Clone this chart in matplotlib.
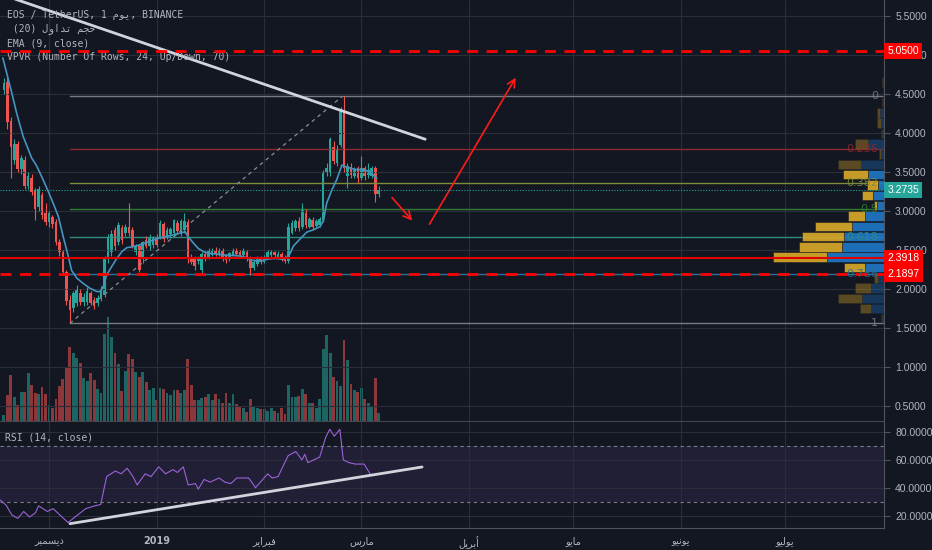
import numpy as np
import matplotlib
matplotlib.use('Agg')
import matplotlib.pyplot as plt
from matplotlib.transforms import blended_transform_factory

BG = '#131722'
GRID = '#2a2e39'
TXT = '#b2b5be'
AXIS = '#50535e'
UP = '#26a69a'
DOWN = '#ef5350'

# daily candles, day 0 = 1 Dec 2018
first_day = -13
opens = [4.55, 4.66, 4.15, 3.66, 3.86, 3.54, 3.66, 3.32, 3.42, 3.27, 3.05, 3.20, 2.98, 2.86, 2.92,
         2.86, 2.60, 2.47, 2.22, 1.86, 1.76, 1.82, 1.95, 1.83, 1.84, 1.95, 1.86, 1.82, 1.88, 1.92,
         2.38, 2.47, 2.76, 2.60, 2.78, 2.72, 2.80, 2.76, 2.48, 2.55, 2.38, 2.63, 2.55, 2.56, 2.65,
         2.67, 2.83, 2.67, 2.70, 2.72, 2.85, 2.72, 2.76, 2.86, 2.40, 2.38, 2.36, 2.24, 2.45, 2.40,
         2.44, 2.50, 2.44, 2.49, 2.42, 2.38, 2.44, 2.50, 2.47, 2.43, 2.48, 2.40, 2.27, 2.32, 2.39,
         2.35, 2.40, 2.43, 2.47, 2.41, 2.45, 2.40, 2.36, 2.72, 2.78, 2.87, 2.80, 2.98, 2.80, 2.88,
         2.81, 2.82, 2.88, 3.49, 3.50, 3.82, 3.62, 3.85, 4.30, 3.45, 3.57, 3.45, 3.55, 3.42, 3.55,
         3.46, 3.45, 3.55, 3.22]
highs = [4.70, 4.72, 4.20, 3.92, 3.90, 3.72, 3.70, 3.50, 3.48, 3.30, 3.32, 3.25, 3.10, 3.00, 2.95,
         2.90, 2.64, 2.50, 2.25, 1.92, 1.98, 2.05, 2.00, 1.95, 2.02, 1.98, 1.90, 1.92, 2.04, 2.42,
         2.70, 2.76, 2.80, 2.86, 2.82, 2.83, 3.10, 2.80, 2.58, 2.58, 2.62, 2.68, 2.70, 2.68, 2.70,
         2.88, 2.86, 2.80, 2.80, 2.90, 2.88, 2.90, 2.97, 2.90, 2.45, 2.42, 2.42, 2.48, 2.48, 2.52,
         2.53, 2.54, 2.52, 2.52, 2.45, 2.48, 2.52, 2.53, 2.50, 2.52, 2.50, 2.42, 2.38, 2.42, 2.42,
         2.44, 2.50, 2.50, 2.49, 2.49, 2.48, 2.43, 2.85, 2.88, 2.90, 2.92, 3.10, 3.02, 2.92, 2.92,
         2.90, 2.92, 3.52, 3.62, 3.95, 3.90, 3.85, 4.33, 4.47, 3.62, 3.62, 3.56, 3.58, 3.70, 3.58,
         3.62, 3.58, 3.58, 3.32]
lows = [4.50, 4.05, 3.42, 3.60, 3.50, 3.48, 3.28, 3.28, 3.20, 2.88, 3.00, 2.90, 2.82, 2.80, 2.78,
        2.56, 2.42, 2.18, 1.80, 1.58, 1.70, 1.78, 1.80, 1.78, 1.80, 1.80, 1.74, 1.78, 1.85, 1.90,
        2.33, 2.42, 2.50, 2.56, 2.58, 2.68, 2.68, 2.52, 2.44, 2.22, 2.34, 2.52, 2.50, 2.52, 2.54,
        2.64, 2.60, 2.64, 2.66, 2.68, 2.70, 2.68, 2.72, 2.34, 2.32, 2.25, 2.32, 2.20, 2.36, 2.38,
        2.42, 2.42, 2.42, 2.36, 2.34, 2.36, 2.42, 2.42, 2.40, 2.40, 2.36, 2.18, 2.24, 2.30, 2.32,
        2.33, 2.38, 2.40, 2.40, 2.39, 2.36, 2.33, 2.33, 2.70, 2.75, 2.74, 2.77, 2.78, 2.78, 2.76,
        2.79, 2.80, 2.86, 3.45, 3.45, 3.60, 3.58, 3.82, 3.50, 3.30, 3.42, 3.42, 3.36, 3.40, 3.40,
        3.42, 3.42, 3.12, 3.18]
closes = [4.64, 4.14, 3.82, 3.86, 3.54, 3.68, 3.32, 3.45, 3.24, 3.02, 3.28, 2.95, 2.86, 2.97, 2.84,
          2.60, 2.47, 2.22, 1.85, 1.73, 1.95, 2.00, 1.83, 1.90, 1.98, 1.82, 1.78, 1.88, 2.00, 2.38,
          2.65, 2.70, 2.55, 2.82, 2.63, 2.80, 2.72, 2.55, 2.55, 2.25, 2.60, 2.55, 2.66, 2.65, 2.57,
          2.85, 2.64, 2.76, 2.77, 2.88, 2.74, 2.87, 2.87, 2.38, 2.35, 2.30, 2.40, 2.45, 2.40, 2.50,
          2.50, 2.45, 2.49, 2.40, 2.37, 2.46, 2.50, 2.45, 2.43, 2.49, 2.40, 2.27, 2.35, 2.39, 2.35,
          2.41, 2.47, 2.47, 2.43, 2.45, 2.39, 2.36, 2.80, 2.85, 2.87, 2.78, 3.01, 2.82, 2.90, 2.80,
          2.87, 2.90, 3.49, 3.55, 3.92, 3.64, 3.80, 4.30, 3.55, 3.58, 3.46, 3.52, 3.42, 3.55, 3.45,
          3.52, 3.55, 3.22, 3.27]
volumes = [6, 26, 46, 24, 16, 29, 29, 48, 36, 28, 27, 34, 27, 16, 13, 22, 35, 42, 54, 74,
           68, 63, 58, 43, 40, 48, 41, 32, 28, 87, 104, 84, 68, 57, 30, 50, 67, 62, 49, 44,
           49, 39, 31, 33, 21, 33, 32, 28, 26, 31, 31, 28, 31, 62, 36, 21, 21, 23, 24, 27,
           21, 27, 22, 18, 28, 18, 27, 17, 14, 13, 9, 22, 14, 13, 12, 12, 10, 13,
           10, 8, 13, 7, 36, 24, 24, 25, 32, 27, 18, 18, 13, 22, 72, 86, 68, 44, 40, 35,
           81, 61, 37, 31, 29, 33, 22, 18, 14, 43, 8]

ema_days = [-13.3, -12.2, -10.7, -9.3, -7.4, -5.0, -3.7, -2.1, -0.2, 1.2, 2.7, 4.1, 5.6, 6.5, 8.0,
            9.9, 11.8, 13.7, 14.7, 15.6, 16.6, 18.1, 19.5, 21.0, 22.4, 23.8, 25.7, 27.7, 29.6, 31.5,
            33.4, 35.4, 37.3, 39.2, 40.1, 41.6, 43.0, 44.5, 45.9, 47.8, 49.8, 51.7, 53.6, 55.5, 57.0,
            58.4, 59.9, 61.3, 62.7, 64.2, 66.1, 67.5, 68.5, 69.5, 70.4, 72.3, 74.3, 76.2, 78.1, 79.1,
            80.0, 81.5, 82.9, 84.4, 85.3, 86.7, 88.6, 90.6, 92.5, 94.4]
ema_vals = [4.96, 4.77, 4.51, 4.25, 3.95, 3.68, 3.59, 3.44, 3.25, 3.10, 2.93, 2.67, 2.41, 2.24, 2.14,
            2.07, 2.01, 1.97, 1.965, 2.03, 2.18, 2.29, 2.39, 2.48, 2.53, 2.54, 2.56, 2.59, 2.62, 2.65,
            2.67, 2.69, 2.71, 2.735, 2.67, 2.59, 2.52, 2.48, 2.46, 2.45, 2.44, 2.43, 2.43, 2.42, 2.40,
            2.37, 2.36, 2.36, 2.38, 2.39, 2.39, 2.38, 2.40, 2.46, 2.55, 2.64, 2.73, 2.76, 2.80, 2.88,
            3.10, 3.27, 3.40, 3.59, 3.57, 3.55, 3.53, 3.53, 3.50, 3.42]

rsi_days = [-14, -12.4, -10.7, -9, -7.3, -5.6, -3.9, -3, -0.5, 1.2, 2.9, 5.5, 8, 10.6, 13.2, 14.9,
            16.6, 19.1, 20.8, 22.5, 24.2, 25.4, 27.7, 29.4, 31.6, 33.6, 35.7, 37, 38.7, 40.1, 42.2,
            43, 44.7, 46.4, 49, 50.7, 52.4, 54.1, 57.5, 58.4, 59.5, 60.9, 63, 64.3, 66, 68.9, 71.1,
            72.9, 73.7, 74.6, 76.3, 78, 79.7, 80.9, 82.2, 83.8, 84.8, 86.5, 88.2, 90.8, 92.5]
rsi_vals = [31, 27.6, 20.5, 18, 23, 19, 22, 27, 23, 25, 21, 15, 20, 25, 27, 28,
            48, 52, 50, 54, 48, 42, 50, 48, 55, 50, 53, 51, 55, 42, 43,
            39, 46, 44, 47, 44, 43, 47, 47, 44, 40, 44, 50, 47, 48, 63, 66,
            60, 64, 58, 60, 62, 76, 82, 77, 82, 60, 58, 57, 57, 50]

# fibonacci retracement drawn from the Dec low to the Feb high
fib_labels = ['0', '0.236', '0.382', '0.5', '0.618', '0.786', '1']
fib_prices = [4.47, 3.80, 3.36, 3.03, 2.67, 2.19, 1.56]
fib_colors = ['#787b86', '#8b2a30', '#7d8c38', '#2e7d32', '#2f8c80', '#2c6f96', '#787b86']
fib_start = 6

# VPVR, 24 rows, bottom row first
vp_low, vp_high = 1.55, 4.72
vp_up = [1, 11, 24, 16, 4, 21, 54, 43, 42, 37, 17, 3, 11, 11, 25, 23, 2, 13, 1, 4, 3, 1, 0.5, 1]
vp_down = [2, 13, 22, 13, 6, 19, 57, 42, 40, 32, 19, 7, 11, 6, 16, 23, 3, 16, 2, 3, 4, 1, 1, 1]
vp_value_area = (5, 14)
vp_span = 884

month_days = [0, 31, 62, 90, 121, 151, 182, 212]
month_labels = ['\uFEAE\uFE92\uFEE4\uFEB4\uFEF3\uFEA9', '2019',
                '\uFEAE\uFEF3\uFE8D\uFEAE\uFE92\uFED3', '\uFEB1\uFEAD\uFE8E\uFEE3',
                '\uFEDE\uFEF3\uFEAE\uFE91\uFE83', '\uFEEE\uFEF3\uFE8E\uFEE3',
                '\uFEEE\uFEF4\uFEE7\uFEEE\uFEF3', '\uFEEE\uFEF4\uFEDF\uFEEE\uFEF3']

price_marks = [(5.05, '5.0500', '#ff0000'), (3.2735, '3.2735', UP),
               (2.3918, '2.3918', '#ff0000'), (2.1897, '2.1897', '#ff0000')]

days = np.arange(first_day, first_day + len(closes))
o = np.array(opens)
c = np.array(closes)
cols = [UP if cc >= oo else DOWN for oo, cc in zip(o, c)]

fig = plt.figure(figsize=(9.32, 5.5), dpi=100, facecolor=BG)
ax = fig.add_axes([0, 0.2345, 0.9485, 0.7655])
ax_vol = ax.twinx()
ax_vp = ax.twiny()
ax_vol.set_zorder(0)
ax.set_zorder(1)
ax_vp.set_zorder(2)
ax_vol.set_facecolor(BG)
ax.patch.set_visible(False)
ax_vp.patch.set_visible(False)

ax.set_xlim(-14.12, 240.6)
ax.set_ylim(0.308, 5.705)
ax.set_xticks(month_days)
ax.set_yticks(np.arange(0.5, 5.51, 0.5))
ax.set_yticklabels([f'{v:.4f}' for v in np.arange(0.5, 5.51, 0.5)], family='Liberation Sans')
ax.yaxis.tick_right()
ax.tick_params(axis='y', labelcolor=TXT, color=AXIS, labelsize=7.5, length=4, pad=4)
ax.tick_params(axis='x', length=0, labelbottom=False)
ax.grid(color=GRID, lw=0.8)
for s in ['top', 'left']:
    ax.spines[s].set_visible(False)
ax.spines['right'].set_color(AXIS)
ax.spines['bottom'].set_color('#434651')
for s in ax_vol.spines.values():
    s.set_visible(False)
for s in ax_vp.spines.values():
    s.set_visible(False)

# volume
ax_vol.bar(days, volumes, width=0.82, color=cols, alpha=0.55)
ax_vol.set_ylim(0, max(volumes) * 4.05)
ax_vol.set_yticks([])

# fib levels
for lab, p, col in zip(fib_labels, fib_prices, fib_colors):
    ax.plot([fib_start, 240.6], [p, p], color=col, lw=1)
ax.plot([fib_start, 84.5], [fib_prices[-1], fib_prices[0]], color='#8a8d96', lw=0.9,
        ls=(0, (3, 3)))

# candles
ax.vlines(days, lows, highs, colors=cols, lw=0.8)
ax.bar(days, c - o, bottom=o, width=0.76, color=cols)

# EMA
ax.plot(ema_days, ema_vals, color='#4593c0', lw=1.2)

# trendline and arrows
ax.plot([-10, 108.4], [5.72, 3.92], color='#d1d4dc', lw=2, solid_capstyle='round')
ax.annotate('', xy=(105.2, 2.85), xytext=(98.3, 3.2),
            arrowprops=dict(arrowstyle='->', color='#ff1a1a', lw=1.2, mutation_scale=14))
ax.annotate('', xy=(134.9, 4.74), xytext=(109.2, 2.8),
            arrowprops=dict(arrowstyle='->', color='#ff1a1a', lw=1.2, mutation_scale=14))

# volume profile
edges = np.linspace(vp_low, vp_high, len(vp_up) + 1)
centers = (edges[:-1] + edges[1:]) / 2
rowh = (edges[1] - edges[0]) * 0.92
for k, (u, d) in enumerate(zip(vp_up, vp_down)):
    bright = vp_value_area[0] <= k <= vp_value_area[1]
    a = 0.9 if bright else 0.35
    ax_vp.barh(centers[k], d, left=0, height=rowh, color='#1f78c8', alpha=a,
               edgecolor=BG, lw=0.4)
    ax_vp.barh(centers[k], u, left=d, height=rowh, color='#dcaa28', alpha=a,
               edgecolor=BG, lw=0.4)
ax_vp.set_xlim(vp_span, 0)
ax_vp.set_xticks([])

for lab, p, col in zip(fib_labels, fib_prices, fib_colors):
    ax_vp.text(6, p, lab, color=col, fontsize=8, ha='right', va='center', alpha=0.9)

# horizontal price lines
ax_vp.axhline(5.05, color='#ff0000', lw=2, ls=(0, (4, 3)))
ax_vp.axhline(2.3918, color='#e00000', lw=1.5)
ax_vp.axhline(2.1897, color='#ff0000', lw=2, ls=(0, (4, 3)))
ax_vp.axhline(3.2735, color=UP, lw=0.8, ls=(0, (1, 1.5)))

tr = blended_transform_factory(ax_vp.transAxes, ax_vp.transData)
for p, lab, col in price_marks:
    ax_vp.text(1.004, p, lab, transform=tr, color='white', fontsize=7.5, family='Liberation Sans',
               ha='left', va='center', clip_on=False,
               bbox=dict(boxstyle='square,pad=0.3', fc=col, ec='none'))

# legend text
mono = ['DejaVu Sans Mono', 'DejaVu Sans']
legend_lines = ['EOS / TetherUS, 1 \uFEE1\uFEEE\uFEF3, BINANCE',
                ' (20) \uFEDD\uFEED\uFE8D\uFEAA\uFE97 \uFEE2\uFEA0\uFEA3',
                'EMA (9, close)',
                'VPVR (Number Of Rows, 24, Up/Down, 70)']
for i, line in enumerate(legend_lines):
    ax.text(7 / 884, 1 - (15 + 14 * i) / 421, line, transform=ax.transAxes, color=TXT,
            fontsize=7, family=mono, va='center', ha='left')

# RSI pane
ax_rsi = fig.add_axes([0, 0.04, 0.9485, 0.1945], sharex=ax)
ax_rsi.set_facecolor(BG)
ax_rsi.set_ylim(11.1, 87.9)
ax_rsi.axhspan(30, 70, color='#7e57c2', alpha=0.13, lw=0)
ax_rsi.axhline(70, color='#787b86', lw=0.8, ls=(0, (3, 3)))
ax_rsi.axhline(30, color='#787b86', lw=0.8, ls=(0, (3, 3)))
ax_rsi.set_yticks([20, 40, 60, 80])
ax_rsi.set_yticklabels([f'{v:.4f}' for v in [20, 40, 60, 80]], family='Liberation Sans')
ax_rsi.yaxis.tick_right()
ax_rsi.tick_params(axis='y', labelcolor=TXT, color=AXIS, labelsize=7.5, length=4, pad=4)
ax_rsi.grid(color=GRID, lw=0.8)
ax_rsi.plot(rsi_days, rsi_vals, color='#9c62d6', lw=0.8)
ax_rsi.plot([6.05, 107.5], [14.2, 54.9], color='#d1d4dc', lw=2, solid_capstyle='round')
ax_rsi.set_xticks(month_days)
ax_rsi.set_xticklabels(month_labels, family=['DejaVu Sans'])
ax_rsi.tick_params(axis='x', length=0, pad=6, labelcolor=TXT, labelsize=7)
ax_rsi.get_xticklabels()[1].set_fontweight('bold')
for s in ['top', 'left']:
    ax_rsi.spines[s].set_visible(False)
ax_rsi.spines['right'].set_color(AXIS)
ax_rsi.spines['bottom'].set_color(AXIS)
ax_rsi.text(5 / 884, 0.85, 'RSI (14, close)', transform=ax_rsi.transAxes, color=TXT,
            fontsize=7, family=mono, va='center')

fig.savefig('out.png', dpi=100, facecolor=BG)
